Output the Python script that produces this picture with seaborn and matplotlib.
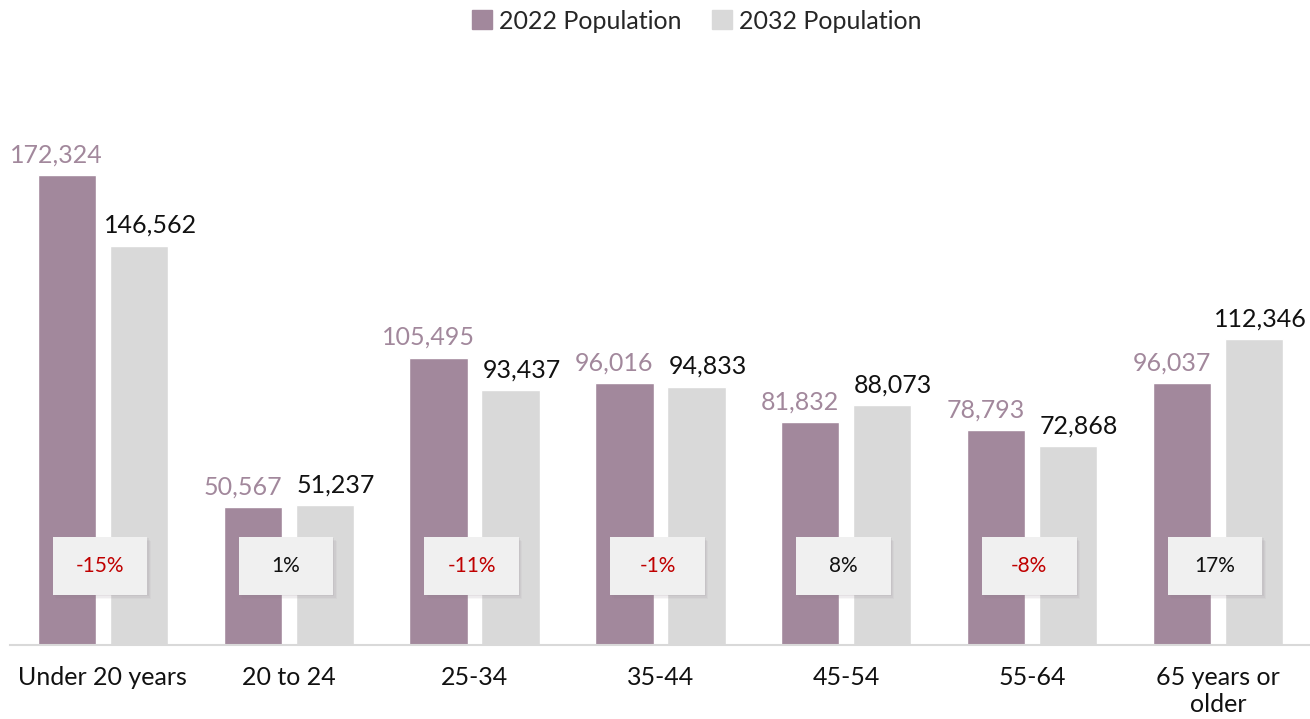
import matplotlib
matplotlib.use("Agg")
import matplotlib.pyplot as plt
from matplotlib.patches import Rectangle
import seaborn as sns
import pandas as pd

categories = ["Under 20 years", "20 to 24", "25-34", "35-44", "45-54", "55-64", "65 years or\nolder"]
pop_2022 = [172324, 50567, 105495, 96016, 81832, 78793, 96037]
pop_2032 = [146562, 51237, 93437, 94833, 88073, 72868, 112346]
changes = ["-15%", "1%", "-11%", "-1%", "8%", "-8%", "17%"]
series = ["2022 Population", "2032 Population"]

PURPLE = "#a2889c"
GREY = "#d9d9d9"

sns.set_theme(style="white")
plt.rcParams["font.family"] = ["Lato", "DejaVu Sans"]

df = pd.DataFrame({
    "group": categories * 2,
    "series": [series[0]] * len(categories) + [series[1]] * len(categories),
    "value": pop_2022 + pop_2032,
})

fig = plt.figure(figsize=(13.1, 7.19), dpi=100)
ax = fig.add_axes([0.0076, 0.1029, 0.993, 0.758])

sns.barplot(data=df, x="group", y="value", hue="series", order=categories,
            hue_order=series, palette=[PURPLE, GREY], width=0.775, gap=0.19,
            saturation=1, legend=False, ax=ax)

ax.set_xlim(-0.5, len(categories) - 0.5)
ax.set_ylim(0, 200000)

# value labels
for bar, v in zip(ax.containers[0], pop_2022):
    x = bar.get_x() + bar.get_width() / 2 - 0.055
    ax.text(x, v + 3200, f"{v:,}", ha="center", va="bottom", fontsize=18, color=PURPLE)
for bar, v in zip(ax.containers[1], pop_2032):
    x = bar.get_x() + bar.get_width() / 2 + 0.06
    x = min(x, len(categories) - 0.5 - 0.27)  # keep the last label inside
    ax.text(x, v + 3200, f"{v:,}", ha="center", va="bottom", fontsize=18, color="#111111")

# percent change boxes with a soft shadow
bw, bh = 0.51, 21300
for i, c in enumerate(changes):
    x0 = i - 0.015 - bw / 2
    y0 = 29000 - bh / 2
    for k, a in enumerate([0.10, 0.08, 0.06]):
        d = (k + 1) * 0.006
        ax.add_patch(Rectangle((x0 + d, y0 - (k + 1) * 500), bw, bh, facecolor="#8a7a86",
                               alpha=a, edgecolor="none", zorder=3))
    ax.add_patch(Rectangle((x0, y0), bw, bh, facecolor="#f0f0f0",
                           edgecolor="none", zorder=4))
    col = "#c00000" if c.startswith("-") else "#111111"
    ax.text(i - 0.015, 29000, c, ha="center", va="center", fontsize=15,
            color=col, zorder=5)

ax.set_xlabel("")
ax.set_ylabel("")
ax.set_yticks([])
ax.tick_params(axis="x", length=0, labelsize=18, colors="#111111", pad=15)
for s in ["top", "right", "left"]:
    ax.spines[s].set_visible(False)
ax.spines["bottom"].set_color(GREY)
ax.spines["bottom"].set_linewidth(1.5)

handles = [Rectangle((0, 0), 1, 1, color=PURPLE), Rectangle((0, 0), 1, 1, color=GREY)]
fig.legend(handles, series, loc="upper center", bbox_to_anchor=(0.532, 1.018),
           ncol=2, frameon=False, fontsize=18, handlelength=0.8, handleheight=0.8,
           columnspacing=1.2, handletextpad=0.3)

fig.savefig("out.png", dpi=100)
